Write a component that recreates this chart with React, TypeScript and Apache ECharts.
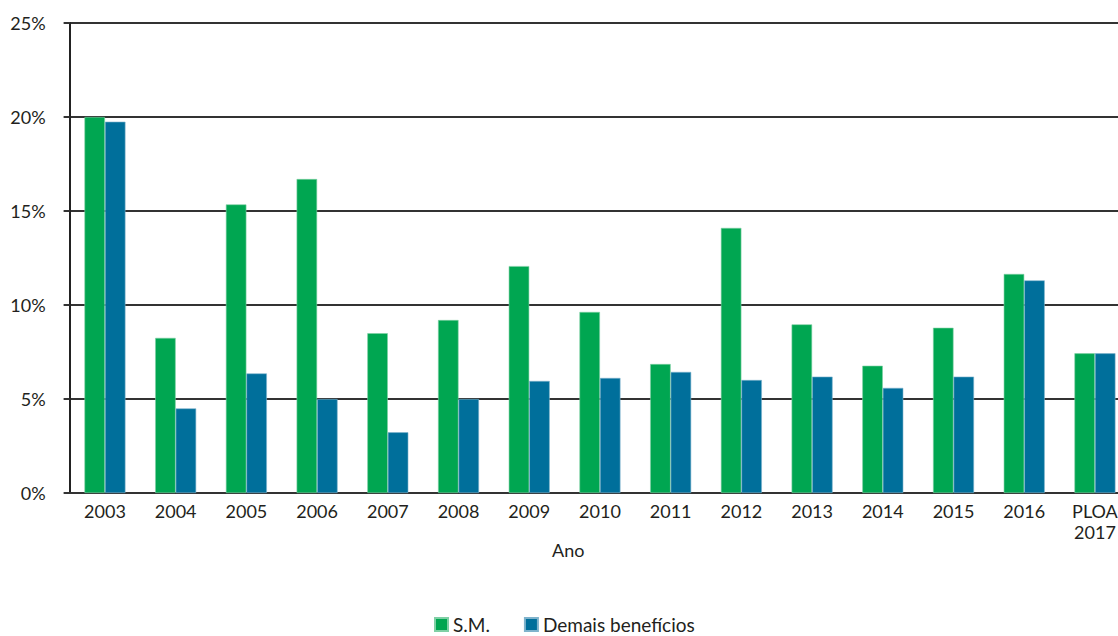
import React, { useEffect, useRef } from "react";
import * as echarts from "echarts";

const categories = ["2003", "2004", "2005", "2006", "2007", "2008", "2009", "2010", "2011", "2012", "2013", "2014", "2015", "2016", "PLOA\n2017"];
const smValues = [20.0, 8.25, 15.35, 16.7, 8.5, 9.2, 12.07, 9.63, 6.86, 14.1, 8.97, 6.77, 8.79, 11.65, 7.43];
const demaisValues = [19.75, 4.5, 6.36, 5.0, 3.23, 5.0, 5.96, 6.12, 6.44, 6.01, 6.19, 5.59, 6.19, 11.31, 7.43];
const yTicks = { min: 0, max: 25, interval: 5 };

const FONT = "Lato";
const TEXT = "#231f20";
const GREEN = "#00a651";
const BLUE = "#006f9b";

export default function App() {
  const ref = useRef<HTMLDivElement>(null);
  useEffect(() => {
    if (!ref.current) return;
    const chart = echarts.init(ref.current, undefined, { renderer: "svg" });
    chart.setOption({
      animation: false,
      textStyle: { fontFamily: FONT, color: TEXT },
      grid: { left: 69.6, top: 23, width: 1060.7, height: 470 },
      legend: {
        left: 434,
        top: 615,
        padding: 0,
        itemWidth: 13,
        itemHeight: 13,
        itemGap: 34,
        icon: "rect",
        textStyle: { fontFamily: FONT, fontSize: 19, lineHeight: 19, color: TEXT },
        data: ["S.M.", "Demais benefícios"],
      },
      graphic: [
        {
          type: "text",
          left: 552,
          top: 541,
          style: { text: "Ano", fontFamily: FONT, fontSize: 18, fill: TEXT },
        },
      ],
      xAxis: {
        type: "category",
        data: categories,
        axisLine: { show: true, lineStyle: { color: "#333", width: 2 } },
        axisTick: { show: false },
        axisLabel: { fontFamily: FONT, fontSize: 18, color: TEXT, margin: 7, lineHeight: 21, interval: 0 },
      },
      yAxis: {
        type: "value",
        min: yTicks.min,
        max: yTicks.max,
        interval: yTicks.interval,
        axisLine: { show: true, lineStyle: { color: "#222", width: 2 } },
        axisTick: { show: true, length: 6, lineStyle: { color: "#333", width: 2 } },
        splitLine: { show: true, lineStyle: { color: "#333", width: 2 } },
        axisLabel: { fontFamily: FONT, fontSize: 18, color: TEXT, margin: 24, formatter: "{value}%" },
      },
      series: [
        {
          name: "S.M.",
          type: "bar",
          data: smValues,
          barWidth: 20.5,
          barGap: "0%",
          itemStyle: { color: GREEN, borderColor: "#7fd0a5", borderWidth: 0.6 },
        },
        {
          name: "Demais benefícios",
          type: "bar",
          data: demaisValues,
          barWidth: 20.5,
          barGap: "0%",
          itemStyle: { color: BLUE, borderColor: "#7fb3cc", borderWidth: 0.6 },
        },
      ],
    });
    return () => chart.dispose();
  }, []);
  return (
    <div style={{ position: "absolute", left: 0, top: 0, width: 1118, height: 636, overflow: "hidden" }}>
      <div ref={ref} style={{ width: 1145, height: 636 }} />
    </div>
  );
}
